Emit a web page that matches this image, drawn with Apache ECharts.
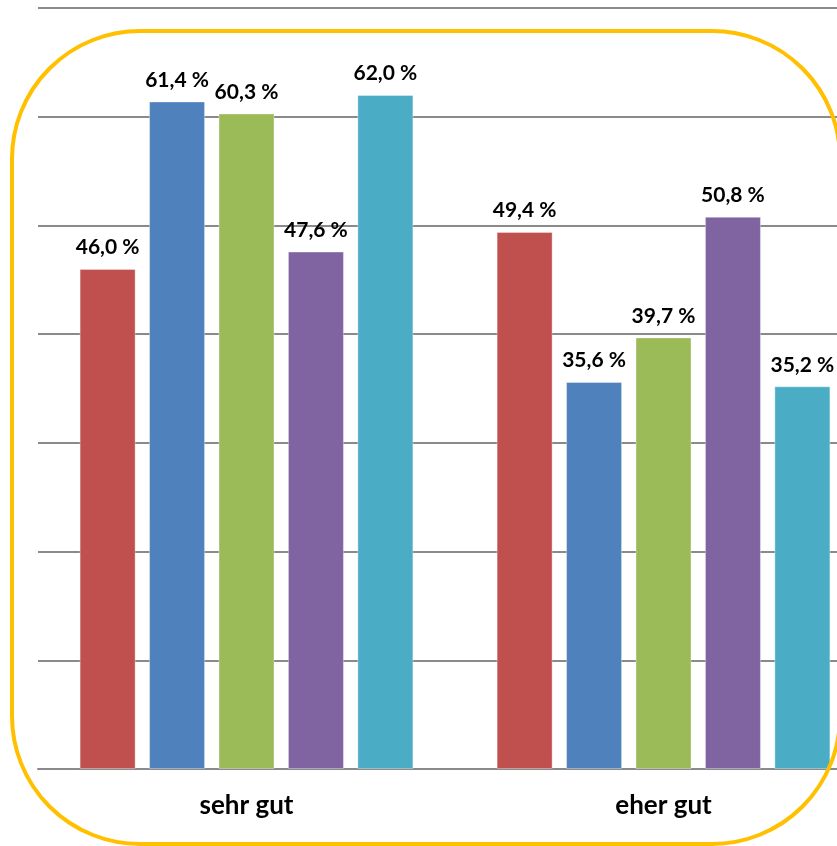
<!DOCTYPE html>
<html>
<head>
<meta charset="utf-8">
<script src="https://cdn.jsdelivr.net/npm/echarts@6/dist/echarts.min.js"></script>
<style>
  html, body { margin: 0; padding: 0; background: #ffffff; }
  #chart { width: 837px; height: 846px; }
</style>
</head>
<body>
<div id="chart"></div>
<script>
// Rating categories on the x axis
const categories = ['sehr gut', 'eher gut'];

// Series values (percent) per category
const series1 = [46.0, 49.4];
const series2 = [61.4, 35.6];
const series3 = [60.3, 39.7];
const series4 = [47.6, 50.8];
const series5 = [62.0, 35.2];

const seriesNames = ['Reihe 1', 'Reihe 2', 'Reihe 3', 'Reihe 4', 'Reihe 5'];
const seriesColors = ['#C0504D', '#4F81BD', '#9BBB59', '#8064A2', '#4BACC6'];
const seriesValues = [series1, series2, series3, series4, series5];

// Value axis range (percent)
const yMin = 0;
const yMax = 70;
const yStep = 10;

const fontFamily = 'Lato, "Open Sans", "DejaVu Sans", sans-serif';

const chart = echarts.init(document.getElementById('chart'), null, { renderer: 'canvas' });

const option = {
  backgroundColor: '#ffffff',
  animation: false,
  grid: {
    left: 38,
    top: 8,
    width: 834,
    height: 761,
    containLabel: false,
    outerBoundsMode: 'none'
  },
  xAxis: {
    type: 'category',
    data: categories,
    axisLine: { show: true, lineStyle: { color: '#8a8a8a', width: 2 } },
    axisTick: { show: false },
    axisLabel: {
      color: '#000000',
      fontFamily: fontFamily,
      fontWeight: 'bold',
      fontSize: 26,
      margin: 24
    }
  },
  yAxis: {
    type: 'value',
    min: yMin,
    max: yMax,
    interval: yStep,
    axisLine: { show: false },
    axisTick: { show: false },
    axisLabel: { show: false },
    splitLine: { show: true, lineStyle: { color: '#8a8a8a', width: 2 } }
  },
  series: seriesValues.map((vals, i) => ({
    name: seriesNames[i],
    type: 'bar',
    data: vals,
    barWidth: 56,
    barGap: '24%',
    itemStyle: {
      color: seriesColors[i],
      borderColor: 'rgba(255,255,255,0.35)',
      borderWidth: 1
    },
    label: {
      show: true,
      position: 'top',
      distance: 11,
      color: '#000000',
      fontFamily: fontFamily,
      fontWeight: 'bold',
      fontSize: 21,
      formatter: p => p.value.toFixed(1).replace('.', ',') + ' %'
    }
  })),
  graphic: [
    {
      type: 'rect',
      z: 100,
      silent: true,
      shape: { x: 12, y: 31, width: 828, height: 813, r: 128 },
      style: { fill: 'none', stroke: '#FFC000', lineWidth: 4 }
    }
  ]
};

chart.setOption(option);
</script>
</body>
</html>
